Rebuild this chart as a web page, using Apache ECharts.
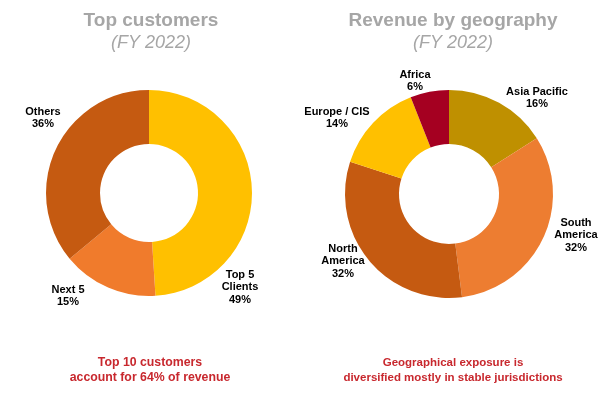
<!DOCTYPE html>
<html lang="en">
<head>
    <meta charset="UTF-8"/>
    <title>Top customers / Revenue by geography</title>
    <script src="https://cdn.jsdelivr.net/npm/echarts@6/dist/echarts.min.js"></script>
    <style>
        html, body { margin: 0; padding: 0; background: #fff; }
        #chart { width: 600px; height: 398px; }
    </style>
</head>
<body>
<div id="chart"></div>
<script type="text/javascript">
    // customers split (FY 2022)
    var custNames = ['Top 5\nClients', 'Next 5', 'Others'];
    var custValues = [49, 15, 36];
    var custColors = ['#FFC000', '#F07B2C', '#C55A11'];

    // geography split (FY 2022)
    var geoNames = ['Asia Pacific', 'South\nAmerica', 'North\nAmerica', 'Europe / CIS', 'Africa'];
    var geoValues = [16, 32, 32, 14, 6];
    var geoColors = ['#BF9000', '#ED7D31', '#C55A11', '#FFC000', '#A50021'];

    // where the labels sit (centre of text block), same order as data
    var custLabelPos = [[240, 287], [68, 296], [43, 118]];
    var geoLabelPos = [[537, 98], [576, 235], [343, 261], [337, 118], [415, 81]];

    function toData(names, values, colors) {
        var out = [];
        for (var i = 0; i < names.length; i++) {
            out.push({name: names[i], value: values[i], itemStyle: {color: colors[i]}});
        }
        return out;
    }

    function placeLabel(posList) {
        return function (params) {
            var p = posList[params.dataIndex];
            return {x: p[0], y: p[1], align: 'center', verticalAlign: 'middle'};
        };
    }

    var font = '"Liberation Sans", Arial, sans-serif';
    var labelStyle = {
        show: true,
        position: 'inside',
        formatter: '{b}\n{c}%',
        color: '#000',
        fontFamily: font,
        fontWeight: 'bold',
        fontSize: 11,
        lineHeight: 12.5,
        align: 'center',
        overflow: 'none'
    };

    var myChart = echarts.init(document.getElementById('chart'));
    var option = {
        animation: false,
        title: [
            {text: 'Top customers', left: 146, top: 6, textAlign: 'center',
                textStyle: {color: '#A6A6A6', fontFamily: font, fontWeight: 'bold', fontSize: 19}},
            {text: '(FY 2022)', left: 146, top: 29, textAlign: 'center',
                textStyle: {color: '#A6A6A6', fontFamily: font, fontStyle: 'italic', fontWeight: 'normal', fontSize: 18}},
            {text: 'Revenue by geography', left: 448, top: 6, textAlign: 'center',
                textStyle: {color: '#A6A6A6', fontFamily: font, fontWeight: 'bold', fontSize: 19}},
            {text: '(FY 2022)', left: 448, top: 29, textAlign: 'center',
                textStyle: {color: '#A6A6A6', fontFamily: font, fontStyle: 'italic', fontWeight: 'normal', fontSize: 18}},
            {text: 'Top 10 customers\naccount for 64% of revenue', left: 145, top: 350, textAlign: 'center',
                textStyle: {color: '#C8282E', fontFamily: font, fontWeight: 'bold', fontSize: 12.3, lineHeight: 15}},
            {text: 'Geographical exposure is\ndiversified mostly in stable jurisdictions', left: 448, top: 350, textAlign: 'center',
                textStyle: {color: '#C8282E', fontFamily: font, fontWeight: 'bold', fontSize: 11.5, lineHeight: 15}}
        ],
        series: [
            {
                type: 'pie',
                center: [149, 193],
                radius: [49, 103],
                startAngle: 90,
                clockwise: true,
                avoidLabelOverlap: false,
                label: labelStyle,
                labelLine: {show: false},
                labelLayout: placeLabel(custLabelPos),
                data: toData(custNames, custValues, custColors)
            },
            {
                type: 'pie',
                center: [449, 194],
                radius: [50, 104],
                startAngle: 90,
                clockwise: true,
                avoidLabelOverlap: false,
                label: labelStyle,
                labelLine: {show: false},
                labelLayout: placeLabel(geoLabelPos),
                data: toData(geoNames, geoValues, geoColors)
            }
        ]
    };
    myChart.setOption(option);
</script>
</body>
</html>
